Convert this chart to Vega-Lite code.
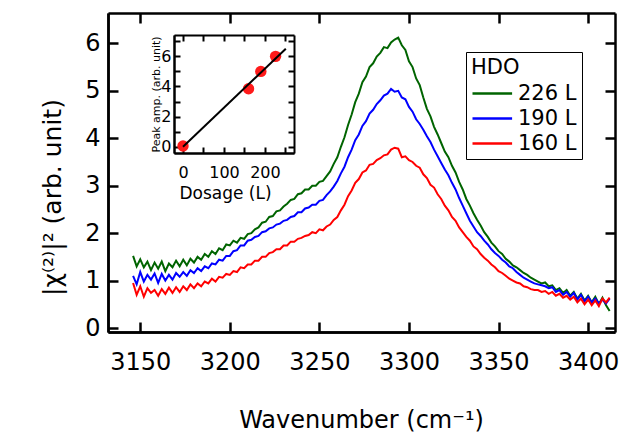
{
  "$schema": "https://vega.github.io/schema/vega-lite/v6.json",
  "width": 507,
  "height": 319,
  "autosize": "none",
  "padding": {"left": 108, "top": 13, "right": 6, "bottom": 102},
  "background": "white",
  "config": {
    "view": {"stroke": null},
    "axis": {
      "grid": false,
      "domainColor": "black",
      "domainWidth": 2.5,
      "labelColor": "black",
      "titleColor": "black",
      "labelFont": "DejaVu Sans",
      "titleFont": "DejaVu Sans",
      "titleFontWeight": "normal",
      "labelFlush": false,
      "labelOverlap": false,
      "format": "d"
    }
  },
  "layer": [
    {
      "mark": {"type": "point", "opacity": 0},
      "encoding": {
        "x": {
          "datum": 3200, "type": "quantitative",
          "scale": {"domain": [3132, 3415], "nice": false, "zero": false},
          "axis": {"orient": "top", "offset": -319, "values": [3150, 3200, 3250, 3300, 3350, 3400], "labels": false, "ticks": true, "tickSize": 10, "tickColor": "black", "tickWidth": 2.5, "title": null}
        },
        "y": {
          "datum": 1, "type": "quantitative",
          "scale": {"domain": [-0.084, 6.64], "nice": false, "zero": false},
          "axis": {"orient": "right", "offset": -507, "values": [0, 1, 2, 3, 4, 5, 6], "labels": false, "ticks": true, "tickSize": 10, "tickColor": "black", "tickWidth": 2.5, "title": null}
        }
      }
    },
    {
      "mark": {"type": "point", "opacity": 0},
      "encoding": {
        "x": {
          "datum": 3200, "type": "quantitative",
          "scale": {"domain": [3132, 3415], "nice": false, "zero": false},
          "axis": {"orient": "bottom", "offset": -319, "values": [3150, 3200, 3250, 3300, 3350, 3400], "labels": false, "ticks": true, "tickSize": 10, "tickColor": "black", "tickWidth": 2.5, "title": null}
        },
        "y": {
          "datum": 1, "type": "quantitative",
          "scale": {"domain": [-0.084, 6.64], "nice": false, "zero": false},
          "axis": {"orient": "left", "offset": -507, "values": [0, 1, 2, 3, 4, 5, 6], "labels": false, "ticks": true, "tickSize": 10, "tickColor": "black", "tickWidth": 2.5, "title": null}
        }
      }
    },
    {
      "data": {
        "values": [
          {"w":3146,"226 L":1.52,"190 L":1.10,"160 L":0.95},
          {"w":3148,"226 L":1.30,"190 L":0.92,"160 L":0.70},
          {"w":3150,"226 L":1.45,"190 L":1.18,"160 L":0.88},
          {"w":3152,"226 L":1.28,"190 L":0.98,"160 L":0.66},
          {"w":3154,"226 L":1.40,"190 L":1.12,"160 L":0.84},
          {"w":3156,"226 L":1.22,"190 L":1.02,"160 L":0.74},
          {"w":3158,"226 L":1.38,"190 L":1.15,"160 L":0.80},
          {"w":3160,"226 L":1.25,"190 L":0.95,"160 L":0.68},
          {"w":3162,"226 L":1.40,"190 L":1.14,"160 L":0.82},
          {"w":3164,"226 L":1.20,"190 L":1.00,"160 L":0.72},
          {"w":3166,"226 L":1.36,"190 L":1.12,"160 L":0.85},
          {"w":3168,"226 L":1.28,"190 L":1.02,"160 L":0.74},
          {"w":3170,"226 L":1.42,"190 L":1.16,"160 L":0.86},
          {"w":3172,"226 L":1.30,"190 L":1.08,"160 L":0.76},
          {"w":3174,"226 L":1.44,"190 L":1.18,"160 L":0.88},
          {"w":3176,"226 L":1.32,"190 L":1.10,"160 L":0.80},
          {"w":3178,"226 L":1.46,"190 L":1.22,"160 L":0.92},
          {"w":3180,"226 L":1.38,"190 L":1.16,"160 L":0.84},
          {"w":3182,"226 L":1.50,"190 L":1.26,"160 L":0.94},
          {"w":3184,"226 L":1.44,"190 L":1.20,"160 L":0.88},
          {"w":3186,"226 L":1.56,"190 L":1.30,"160 L":0.98},
          {"w":3188,"226 L":1.50,"190 L":1.26,"160 L":0.94},
          {"w":3190,"226 L":1.62,"190 L":1.36,"160 L":1.04},
          {"w":3192,"226 L":1.56,"190 L":1.34,"160 L":0.98},
          {"w":3194,"226 L":1.68,"190 L":1.44,"160 L":1.08},
          {"w":3196,"226 L":1.64,"190 L":1.42,"160 L":1.06},
          {"w":3198,"226 L":1.76,"190 L":1.52,"160 L":1.14},
          {"w":3200,"226 L":1.74,"190 L":1.52,"160 L":1.12},
          {"w":3202,"226 L":1.84,"190 L":1.62,"160 L":1.20},
          {"w":3204,"226 L":1.80,"190 L":1.64,"160 L":1.18},
          {"w":3206,"226 L":1.90,"190 L":1.74,"160 L":1.28},
          {"w":3208,"226 L":1.88,"190 L":1.74,"160 L":1.26},
          {"w":3210,"226 L":1.98,"190 L":1.84,"160 L":1.34},
          {"w":3212,"226 L":2.00,"190 L":1.86,"160 L":1.34},
          {"w":3214,"226 L":2.08,"190 L":1.92,"160 L":1.42},
          {"w":3216,"226 L":2.12,"190 L":1.94,"160 L":1.42},
          {"w":3218,"226 L":2.22,"190 L":2.02,"160 L":1.50},
          {"w":3220,"226 L":2.24,"190 L":2.04,"160 L":1.50},
          {"w":3222,"226 L":2.34,"190 L":2.10,"160 L":1.58},
          {"w":3224,"226 L":2.36,"190 L":2.12,"160 L":1.60},
          {"w":3226,"226 L":2.46,"190 L":2.18,"160 L":1.66},
          {"w":3228,"226 L":2.48,"190 L":2.20,"160 L":1.66},
          {"w":3230,"226 L":2.56,"190 L":2.26,"160 L":1.74},
          {"w":3232,"226 L":2.62,"190 L":2.28,"160 L":1.74},
          {"w":3234,"226 L":2.70,"190 L":2.34,"160 L":1.82},
          {"w":3236,"226 L":2.72,"190 L":2.36,"160 L":1.82},
          {"w":3238,"226 L":2.82,"190 L":2.44,"160 L":1.88},
          {"w":3240,"226 L":2.84,"190 L":2.44,"160 L":1.90},
          {"w":3242,"226 L":2.92,"190 L":2.52,"160 L":1.94},
          {"w":3244,"226 L":2.92,"190 L":2.54,"160 L":1.96},
          {"w":3246,"226 L":3.00,"190 L":2.60,"160 L":2.02},
          {"w":3248,"226 L":3.00,"190 L":2.60,"160 L":2.00},
          {"w":3250,"226 L":3.08,"190 L":2.68,"160 L":2.08},
          {"w":3252,"226 L":3.10,"190 L":2.70,"160 L":2.06},
          {"w":3254,"226 L":3.20,"190 L":2.80,"160 L":2.14},
          {"w":3256,"226 L":3.30,"190 L":2.88,"160 L":2.18},
          {"w":3258,"226 L":3.46,"190 L":2.98,"160 L":2.28},
          {"w":3260,"226 L":3.60,"190 L":3.10,"160 L":2.34},
          {"w":3262,"226 L":3.82,"190 L":3.26,"160 L":2.48},
          {"w":3264,"226 L":4.02,"190 L":3.40,"160 L":2.60},
          {"w":3266,"226 L":4.28,"190 L":3.60,"160 L":2.78},
          {"w":3268,"226 L":4.50,"190 L":3.76,"160 L":2.90},
          {"w":3270,"226 L":4.76,"190 L":3.96,"160 L":3.06},
          {"w":3272,"226 L":4.94,"190 L":4.08,"160 L":3.14},
          {"w":3274,"226 L":5.18,"190 L":4.26,"160 L":3.28},
          {"w":3276,"226 L":5.30,"190 L":4.36,"160 L":3.32},
          {"w":3278,"226 L":5.50,"190 L":4.52,"160 L":3.44},
          {"w":3280,"226 L":5.58,"190 L":4.60,"160 L":3.46},
          {"w":3282,"226 L":5.72,"190 L":4.72,"160 L":3.54},
          {"w":3284,"226 L":5.80,"190 L":4.80,"160 L":3.58},
          {"w":3286,"226 L":5.92,"190 L":4.90,"160 L":3.64},
          {"w":3288,"226 L":5.90,"190 L":4.94,"160 L":3.66},
          {"w":3290,"226 L":6.02,"190 L":5.04,"160 L":3.76},
          {"w":3292,"226 L":6.08,"190 L":4.98,"160 L":3.80},
          {"w":3294,"226 L":6.12,"190 L":5.00,"160 L":3.78},
          {"w":3296,"226 L":5.96,"190 L":4.86,"160 L":3.60},
          {"w":3298,"226 L":5.86,"190 L":4.82,"160 L":3.62},
          {"w":3300,"226 L":5.62,"190 L":4.66,"160 L":3.54},
          {"w":3302,"226 L":5.50,"190 L":4.56,"160 L":3.50},
          {"w":3304,"226 L":5.26,"190 L":4.40,"160 L":3.42},
          {"w":3306,"226 L":5.12,"190 L":4.30,"160 L":3.38},
          {"w":3308,"226 L":4.86,"190 L":4.18,"160 L":3.24},
          {"w":3310,"226 L":4.62,"190 L":4.04,"160 L":3.16},
          {"w":3312,"226 L":4.46,"190 L":3.92,"160 L":3.02},
          {"w":3314,"226 L":4.24,"190 L":3.76,"160 L":2.96},
          {"w":3316,"226 L":4.08,"190 L":3.62,"160 L":2.82},
          {"w":3318,"226 L":3.90,"190 L":3.48,"160 L":2.72},
          {"w":3320,"226 L":3.72,"190 L":3.34,"160 L":2.58},
          {"w":3322,"226 L":3.60,"190 L":3.22,"160 L":2.48},
          {"w":3324,"226 L":3.42,"190 L":3.06,"160 L":2.34},
          {"w":3326,"226 L":3.28,"190 L":2.92,"160 L":2.26},
          {"w":3328,"226 L":3.08,"190 L":2.74,"160 L":2.12},
          {"w":3330,"226 L":2.92,"190 L":2.58,"160 L":2.02},
          {"w":3332,"226 L":2.72,"190 L":2.42,"160 L":1.92},
          {"w":3334,"226 L":2.58,"190 L":2.26,"160 L":1.84},
          {"w":3336,"226 L":2.42,"190 L":2.14,"160 L":1.72},
          {"w":3338,"226 L":2.28,"190 L":2.02,"160 L":1.66},
          {"w":3340,"226 L":2.16,"190 L":1.94,"160 L":1.56},
          {"w":3342,"226 L":2.02,"190 L":1.84,"160 L":1.48},
          {"w":3344,"226 L":1.92,"190 L":1.76,"160 L":1.42},
          {"w":3346,"226 L":1.80,"190 L":1.66,"160 L":1.34},
          {"w":3348,"226 L":1.72,"190 L":1.58,"160 L":1.28},
          {"w":3350,"226 L":1.62,"190 L":1.52,"160 L":1.20},
          {"w":3352,"226 L":1.56,"190 L":1.44,"160 L":1.16},
          {"w":3354,"226 L":1.46,"190 L":1.38,"160 L":1.10},
          {"w":3356,"226 L":1.40,"190 L":1.30,"160 L":1.04},
          {"w":3358,"226 L":1.32,"190 L":1.26,"160 L":1.00},
          {"w":3360,"226 L":1.28,"190 L":1.18,"160 L":0.96},
          {"w":3362,"226 L":1.22,"190 L":1.12,"160 L":0.94},
          {"w":3364,"226 L":1.16,"190 L":1.06,"160 L":0.88},
          {"w":3366,"226 L":1.12,"190 L":1.02,"160 L":0.86},
          {"w":3368,"226 L":1.06,"190 L":0.98,"160 L":0.82},
          {"w":3370,"226 L":1.02,"190 L":0.94,"160 L":0.80},
          {"w":3372,"226 L":0.98,"190 L":0.92,"160 L":0.80},
          {"w":3374,"226 L":0.94,"190 L":0.90,"160 L":0.76},
          {"w":3376,"226 L":0.96,"190 L":0.88,"160 L":0.78},
          {"w":3378,"226 L":0.88,"190 L":0.84,"160 L":0.72},
          {"w":3380,"226 L":0.90,"190 L":0.86,"160 L":0.76},
          {"w":3382,"226 L":0.80,"190 L":0.76,"160 L":0.68},
          {"w":3384,"226 L":0.84,"190 L":0.80,"160 L":0.72},
          {"w":3386,"226 L":0.74,"190 L":0.70,"160 L":0.64},
          {"w":3388,"226 L":0.80,"190 L":0.76,"160 L":0.68},
          {"w":3390,"226 L":0.68,"190 L":0.66,"160 L":0.60},
          {"w":3392,"226 L":0.76,"190 L":0.74,"160 L":0.66},
          {"w":3394,"226 L":0.62,"190 L":0.60,"160 L":0.54},
          {"w":3396,"226 L":0.72,"190 L":0.70,"160 L":0.62},
          {"w":3398,"226 L":0.58,"190 L":0.56,"160 L":0.50},
          {"w":3400,"226 L":0.68,"190 L":0.66,"160 L":0.60},
          {"w":3402,"226 L":0.54,"190 L":0.54,"160 L":0.48},
          {"w":3404,"226 L":0.66,"190 L":0.62,"160 L":0.58},
          {"w":3406,"226 L":0.50,"190 L":0.52,"160 L":0.46},
          {"w":3408,"226 L":0.64,"190 L":0.60,"160 L":0.62},
          {"w":3410,"226 L":0.48,"190 L":0.52,"160 L":0.54},
          {"w":3412,"226 L":0.36,"190 L":0.62,"160 L":0.64}
        ]
      },
      "transform": [{"fold": ["226 L", "190 L", "160 L"], "as": ["dose", "value"]}],
      "mark": {"type": "line", "strokeWidth": 2},
      "encoding": {
        "x": {
          "field": "w", "type": "quantitative",
          "scale": {"domain": [3132, 3415], "nice": false, "zero": false},
          "axis": {
            "orient": "bottom",
            "values": [3150, 3200, 3250, 3300, 3350, 3400],
            "tickSize": 0,
            "tickWidth": 0,
            "labelPadding": 18,
            "labelFontSize": 24,
            "title": "Wavenumber (cm⁻¹)",
            "titleFontSize": 24,
            "titleX": 253,
            "titleY": 95,
            "titleBaseline": "alphabetic",
            "titleAlign": "center"
          }
        },
        "y": {
          "field": "value", "type": "quantitative",
          "scale": {"domain": [-0.084, 6.64], "nice": false, "zero": false},
          "axis": {
            "orient": "left",
            "values": [0, 1, 2, 3, 4, 5, 6],
            "tickSize": 0,
            "tickWidth": 0,
            "labelPadding": 8,
            "labelFontSize": 24,
            "title": "|χ⁽²⁾|²  (arb. unit)",
            "titleFontSize": 25,
            "titleAngle": -90,
            "titleX": -48,
            "titleY": 184,
            "titleBaseline": "alphabetic",
            "titleAlign": "center"
          }
        },
        "color": {
          "field": "dose", "type": "nominal",
          "scale": {"domain": ["226 L", "190 L", "160 L"], "range": ["#006400", "#0000ff", "#ff0000"]},
          "legend": {
            "title": "HDO",
            "orient": "none",
            "legendX": 358,
            "legendY": 39,
            "strokeColor": "black",
            "fillColor": "white",
            "padding": 5,
            "titleFont": "DejaVu Sans",
            "titleFontSize": 21,
            "titleFontWeight": "normal",
            "titleColor": "black",
            "titlePadding": 5,
            "labelFont": "DejaVu Sans",
            "labelFontSize": 21,
            "labelColor": "black",
            "symbolType": "M-1,0H3.4",
            "symbolSize": 324,
            "symbolStrokeWidth": 2.5,
            "labelOffset": 26,
            "rowPadding": 3
          }
        }
      }
    },
    {
      "data": {"values": [
        {"d": 0, "p": 0.05},
        {"d": 160, "p": 3.85},
        {"d": 190, "p": 5.0},
        {"d": 226, "p": 6.0}
      ]},
      "mark": {"type": "circle", "size": 130, "color": "#ff1a1a", "opacity": 1},
      "encoding": {
        "x": {
          "field": "d", "type": "quantitative",
          "scale": {"domain": [-22, 271], "range": [66, 186], "nice": false, "zero": false},
          "axis": {"orient": "top", "offset": -140, "values": [0, 50, 100, 150, 200, 250], "labels": false, "ticks": true, "tickSize": 6, "tickColor": "black", "tickWidth": 2, "domainWidth": 2, "title": null}
        },
        "y": {
          "field": "p", "type": "quantitative",
          "scale": {"domain": [-0.42, 7.42], "range": [140, 22], "nice": false, "zero": false},
          "axis": {"orient": "right", "offset": -441, "values": [0, 1, 2, 3, 4, 5, 6, 7], "labels": false, "ticks": true, "tickSize": 6, "tickColor": "black", "tickWidth": 2, "domainWidth": 2, "title": null}
        }
      }
    },
    {
      "data": {"values": [
        {"d": 0, "f": 0},
        {"d": 251, "f": 6.5}
      ]},
      "mark": {"type": "line", "color": "black", "strokeWidth": 2},
      "encoding": {
        "x": {
          "field": "d", "type": "quantitative",
          "scale": {"domain": [-22, 271], "range": [66, 186], "nice": false, "zero": false},
          "axis": {
            "orient": "bottom", "offset": -179,
            "values": [0, 100, 200],
            "tickSize": 0, "tickWidth": 0, "domainWidth": 2,
            "labelPadding": 11, "labelFontSize": 16,
            "title": "Dosage (L)", "titleFontSize": 17,
            "titleX": 117, "titleY": 45, "titleBaseline": "alphabetic", "titleAlign": "center"
          }
        },
        "y": {
          "field": "f", "type": "quantitative",
          "scale": {"domain": [-0.42, 7.42], "range": [140, 22], "nice": false, "zero": false},
          "axis": {
            "orient": "left", "offset": -66,
            "values": [0, 2, 4, 6],
            "tickSize": 0, "tickWidth": 0, "domainWidth": 2,
            "labelPadding": 3, "labelFontSize": 16,
            "title": "Peak amp. (arb. unit)", "titleFontSize": 11,
            "titleAngle": -90,
            "titleX": -15, "titleY": 81, "titleBaseline": "alphabetic", "titleAlign": "center"
          }
        }
      }
    },
    {
      "mark": {"type": "point", "opacity": 0},
      "encoding": {
        "x": {
          "datum": 100, "type": "quantitative",
          "scale": {"domain": [-22, 271], "range": [66, 186], "nice": false, "zero": false},
          "axis": {"orient": "bottom", "offset": -297, "domainWidth": 2, "values": [0, 50, 100, 150, 200, 250], "labels": false, "ticks": true, "tickSize": 6, "tickColor": "black", "tickWidth": 2, "title": null}
        },
        "y": {
          "datum": 1, "type": "quantitative",
          "scale": {"domain": [-0.42, 7.42], "range": [140, 22], "nice": false, "zero": false},
          "axis": {"orient": "left", "offset": -186, "domainWidth": 2, "values": [0, 1, 2, 3, 4, 5, 6, 7], "labels": false, "ticks": true, "tickSize": 6, "tickColor": "black", "tickWidth": 2, "title": null}
        }
      }
    }
  ],
  "resolve": {"scale": {"x": "independent", "y": "independent"}}
}
